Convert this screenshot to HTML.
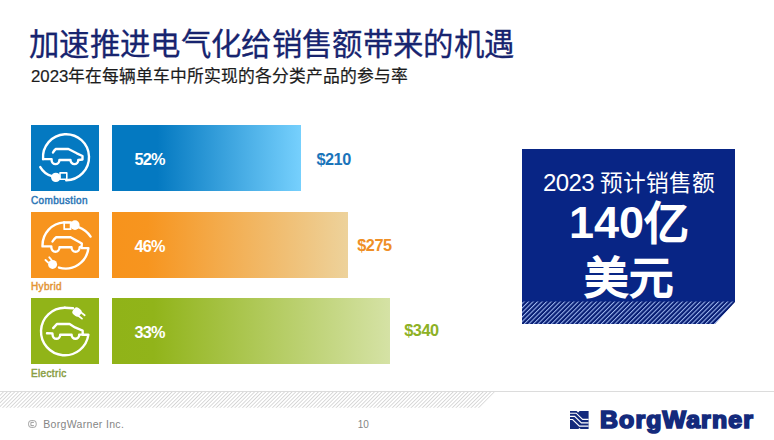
<!DOCTYPE html>
<html lang="zh-CN"><head><meta charset="utf-8">
<style>
*{margin:0;padding:0;box-sizing:border-box}
html,body{width:774px;height:440px;overflow:hidden;background:#fff}
body{position:relative;font-family:"Liberation Sans",sans-serif}
.abs{position:absolute;white-space:nowrap}
#title{left:29px;top:25.7px;font-size:30.4px;letter-spacing:0.33px;line-height:36px;color:#17246f;-webkit-text-stroke:0.3px #17246f}
#sub{left:31px;top:66.8px;font-size:16.8px;line-height:20px;color:#1c1c1c;-webkit-text-stroke:0.2px #1c1c1c}
.ibox{position:absolute;left:31px;width:68px;height:66px}
.bar{position:absolute;left:112px;height:66px}
.pct{position:absolute;left:134.5px;font-weight:bold;font-size:16.3px;letter-spacing:-0.8px;color:#fff;line-height:18px}
.val{position:absolute;font-weight:bold;font-size:16.3px;letter-spacing:-0.5px;line-height:18px}
.lbl{position:absolute;left:31px;font-size:10px;letter-spacing:0.35px;line-height:12px;-webkit-text-stroke:0.45px currentColor}
#navy{position:absolute;left:522px;top:149px;width:214px;height:175px}
.ntext{position:absolute;left:522px;width:214px;text-align:center;color:#fff}
.cb{font-weight:normal;-webkit-text-stroke:2px #fff}
#foot{position:absolute;left:0;top:391px;width:774px;height:1px;background:#dcdcdc}
</style></head><body>
<div id="title" class="abs">加速推进电气化给销售额带来的机遇</div>
<div id="sub" class="abs">2023年在每辆单车中所实现的各分类产品的参与率</div>

<!-- row 1 -->
<svg class="ibox" style="top:125px;background:#0479c1" viewBox="0 0 68 66" fill="none" stroke="#fff" stroke-width="2.4" stroke-linecap="round" stroke-linejoin="round">
<path d="M12.1,34.15 A23,23 0 1 1 35.2,55.2"/>
<path d="M12.1,34.15 L20.6,34.15 L20.6,34.95 A3.9,4.2 0 0 0 28.4,34.95 L39.5,34.95 A3.9,4.2 0 0 0 47.3,34.95 L51.5,34.5 L51.5,31 L45.8,28.3 L37.4,24 L24.8,24 Q23,25.5 22,27.6"/>
<rect x="29" y="47.9" width="6.8" height="6.4" stroke-width="1.6"/>
<circle cx="24.8" cy="52.4" r="4.7" fill="#fff" stroke="none"/>
<path d="M9.3,42.1 Q13,48.8 21,51.2"/>
</svg>
<div class="bar" style="top:125px;width:189px;background:linear-gradient(90deg,#0479c1 0%,#0479c1 24%,#76d0fd 100%)"></div>
<div class="pct" style="top:149.6px">52%</div>
<div class="val" style="left:316.5px;top:149.6px;color:#1a74ba">$210</div>
<div class="lbl" style="top:195px;color:#2b76b6">Combustion</div>

<!-- row 2 -->
<svg class="ibox" style="top:212px;background:#f7941e" viewBox="0 0 68 66" fill="none" stroke="#fff" stroke-width="2.4" stroke-linecap="round" stroke-linejoin="round">
<path d="M33,10.4 A23,23 0 0 0 11.5,33.4 L11.5,34.4 L20.3,34.4 L20.3,35.2 A4.1,4.6 0 0 0 28.5,35.2 L40.5,35.2 A4.1,4.6 0 0 0 48.7,35.2 L50.6,34.6 L50.8,31.5 L47.3,29.5 L39.6,25.3 L25.2,25.3 Q23,27 21.5,29.5"/>
<path d="M50.6,36.1 L57.4,36.1 A23,23 0 0 1 28,55.6"/>
<rect x="33.2" y="10.6" width="6.4" height="6.6" stroke-width="1.7"/>
<path d="M33,10.4 L40,10.4" stroke-width="2.2"/>
<ellipse cx="44" cy="13.1" rx="4.6" ry="4.9" fill="#fff" stroke="none"/>
<path d="M47.5,15.2 Q55,18 59.6,24.6"/>
<circle cx="21.6" cy="52.4" r="4.5" fill="#fff" stroke="none"/>
<path d="M18.3,45.3 L20.6,48 M14.5,48 L17.2,50.6" stroke-width="1.9"/>
</svg>
<div class="bar" style="top:212px;width:236px;background:linear-gradient(90deg,#f7931c 0%,#f7951f 15%,#edd29b 100%)"></div>
<div class="pct" style="top:236.8px">46%</div>
<div class="val" style="left:357.3px;top:235.6px;color:#ef8f26">$275</div>
<div class="lbl" style="top:281px;color:#e39536">Hybrid</div>

<!-- row 3 -->
<svg class="ibox" style="top:298px;background:#91b418" viewBox="0 0 68 66" fill="none" stroke="#fff" stroke-width="2.4" stroke-linecap="round" stroke-linejoin="round">
<path d="M33.8,9.7 A23.8,23.8 0 1 0 57.4,36.7 L51.8,36.7"/>
<path d="M33.8,9.7 L42,10.3"/>
<path d="M16,35.2 L21.4,35.4 L21.6,36.8 A3.8,4 0 0 0 29.2,36.8 L40.6,36.8 A3.8,4 0 0 0 48.2,36.8 L51.8,36.4 L51.6,32.6 L44,29.4 L38.6,26 L25.9,26 L22.2,30.1"/>
<g transform="rotate(38 46.5 14.5)"><rect x="41.6" y="10.3" width="8.4" height="8.2" rx="3" fill="#fff" stroke="none"/>
<path d="M49.6,12.2 L53.8,12.2 M49.6,16.6 L53.8,16.6" stroke-width="1.8"/></g>
</svg>
<div class="bar" style="top:298px;width:278px;background:linear-gradient(90deg,#90b318 0%,#91b41a 15%,#d5e2a5 100%)"></div>
<div class="pct" style="top:323.2px">33%</div>
<div class="val" style="left:404.3px;top:320.5px;color:#8db125">$340</div>
<div class="lbl" style="top:368px;color:#8a9e44">Electric</div>

<!-- navy box -->
<svg id="navy" width="214" height="175" viewBox="0 0 214 175">
<defs>
<pattern id="h1" width="3.2" height="3.2" patternUnits="userSpaceOnUse" patternTransform="rotate(45)">
<rect width="3.2" height="3.2" fill="#061c72"/>
<rect width="1.05" height="3.2" fill="#9db6ef"/>
</pattern>
</defs>
<rect x="0" y="0" width="213" height="153" fill="#082585"/>
<polygon points="0,152.5 213,152.5 213,153 193,175 0,175" fill="url(#h1)"/>
</svg>
<div class="ntext" style="top:170.5px;font-size:22.7px;line-height:24px"><span style="font-size:24px;letter-spacing:-0.66px">2023 </span>预计销售额</div>
<div class="ntext" style="top:197.8px;font-size:45px;line-height:50px;font-weight:bold">140<span class="cb" style="position:relative;top:2.6px">亿</span></div>
<div class="ntext" style="top:253.9px;font-size:44.5px;line-height:50px"><span class="cb">美元</span></div>

<!-- footer -->
<svg style="position:absolute;left:0;top:391px" width="774" height="18" viewBox="0 0 774 18">
<defs>
<pattern id="h2" width="2.65" height="2.65" patternUnits="userSpaceOnUse" patternTransform="rotate(45)">
<rect width="2.65" height="2.65" fill="#fff"/>
<rect width="0.85" height="2.65" fill="#d3d3d3"/>
</pattern>
</defs>
<polygon points="0,0 496,0 479.5,16.8 0,16.8" fill="url(#h2)"/>
<rect x="0" y="0" width="774" height="1" fill="#dcdcdc"/>
</svg>
<svg style="position:absolute;left:28px;top:420px" width="9" height="8" viewBox="0 0 9 8" fill="none" stroke="#969696" stroke-width="0.9">
<rect x="0.6" y="0.6" width="7.6" height="6.8" rx="2.6"/>
<path d="M5.9,2.4 L2.9,2.4 L2.9,5.6 L5.9,5.6"/>
</svg>
<div class="abs" style="left:43.2px;top:417.8px;font-size:10.5px;letter-spacing:0.33px;line-height:12px;color:#858585">BorgWarner Inc.</div>
<div class="abs" style="left:357.8px;top:419.4px;font-size:10px;line-height:12px;color:#858585">10</div>

<!-- logo -->
<div class="abs" style="left:600px;top:405px;font-size:23px;line-height:30px;font-weight:bold;color:#142a7c;letter-spacing:1.05px;-webkit-text-stroke:1.7px #142a7c;transform:scaleX(1.08);transform-origin:0 0">BorgWarner</div>
<svg style="position:absolute;left:570.4px;top:411px" width="18.6" height="18" viewBox="0 0 18.6 18">
<rect width="18.6" height="18" fill="#142a7c"/>
<g fill="none" stroke="#fff" stroke-width="1.15">
<path d="M0,2.2 L6.2,2.2 L12.6,8.4 L18.6,8.4"/>
<path d="M0,5.4 L4.6,5.4 L11.4,11.9 L18.6,11.9"/>
<path d="M0,8.5 L2.6,8.5 L9.4,15.1 L18.6,15.1"/>
</g>
<path d="M6.6,0 L9.6,0 L8.1,1.4 Z" fill="#fff"/>
<path d="M8.4,18 L10.6,18 L9.5,16.9 Z" fill="#fff"/>
</svg>
</body></html>
